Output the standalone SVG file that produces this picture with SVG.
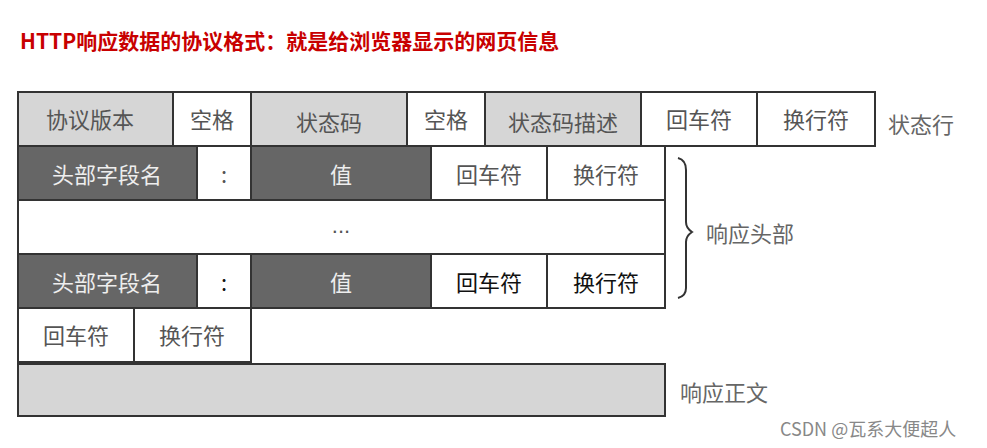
<svg xmlns="http://www.w3.org/2000/svg" width="987" height="448" viewBox="0 0 987 448">
<style>
.c{stroke:#333;stroke-width:2}
.l{fill:#d6d6d6}.w{fill:#fff}.d{fill:#666}
text{font-family:"Noto Sans CJK SC",sans-serif;font-size:22px;text-anchor:middle;dominant-baseline:central;fill:#555}
.dt{fill:#eee}
.k{fill:#111}
.lab{text-anchor:start;fill:#666}
</style>
<rect width="987" height="448" fill="#fff"/>
<text x="20" y="40" style="font-family:'Noto Sans CJK SC',serif;font-size:21px;font-weight:bold;fill:#c80000;text-anchor:start">HTTP响应数据的协议格式：就是给浏览器显示的网页信息</text>
<g id="row1">
<rect class="c l" x="18" y="92" width="155" height="54"/><text x="90" y="118">协议版本</text>
<rect class="c w" x="173" y="92" width="78" height="54"/><text x="212" y="118">空格</text>
<rect class="c l" x="251" y="92" width="156" height="54"/><text x="329" y="121">状态码</text>
<rect class="c w" x="407" y="92" width="78" height="54"/><text x="446" y="118">空格</text>
<rect class="c l" x="485" y="92" width="156" height="54"/><text x="563" y="121">状态码描述</text>
<rect class="c w" x="641" y="92" width="116" height="54"/><text x="699" y="118">回车符</text>
<rect class="c w" x="757" y="92" width="118" height="54"/><text x="816" y="118">换行符</text>
</g>
<g id="row2">
<rect class="c d" x="18" y="146" width="179" height="54"/><text class="dt" x="107" y="173">头部字段名</text>
<rect class="c w" x="197" y="146" width="54" height="54"/><text x="224" y="173">:</text>
<rect class="c d" x="251" y="146" width="180" height="54"/><text class="dt" x="341" y="173">值</text>
<rect class="c w" x="431" y="146" width="116" height="54"/><text x="489" y="173">回车符</text>
<rect class="c w" x="547" y="146" width="118" height="54"/><text x="606" y="173">换行符</text>
</g>
<g id="row3">
<rect class="c w" x="18" y="200" width="647" height="54"/><text x="341" y="225" style="font-family:'Liberation Sans',sans-serif">...</text>
</g>
<g id="row4">
<rect class="c d" x="18" y="254" width="179" height="54"/><text class="dt" x="107" y="281">头部字段名</text>
<rect class="c w" x="197" y="254" width="54" height="54"/><text class="k" x="224" y="281">:</text>
<rect class="c d" x="251" y="254" width="180" height="54"/><text class="dt" x="341" y="281">值</text>
<rect class="c w" x="431" y="254" width="116" height="54"/><text class="k" x="489" y="281">回车符</text>
<rect class="c w" x="547" y="254" width="118" height="54"/><text class="k" x="606" y="281">换行符</text>
</g>
<g id="row5">
<rect class="c w" x="18" y="308" width="116" height="54"/><text x="76" y="334">回车符</text>
<rect class="c w" x="134" y="308" width="117" height="54"/><text x="192" y="334">换行符</text>
</g>
<g id="row6">
<rect class="c l" x="18" y="364" width="647" height="52"/>
</g>
<g id="connectors">
<path d="M678 158 Q686 160 686 170 L686 222 Q686 228 692 232 Q686 236 686 242 L686 288 Q686 296 678 298" fill="none" stroke="#333" stroke-width="2"/>
</g>
<g id="labels">
<text class="lab" x="888" y="123">状态行</text>
<text class="lab" x="706" y="232">响应头部</text>
<text class="lab" x="680" y="391">响应正文</text>
<text class="lab" x="780" y="428" style="font-size:18px;fill:#888">CSDN @瓦系大便超人</text>
</g>
</svg>
